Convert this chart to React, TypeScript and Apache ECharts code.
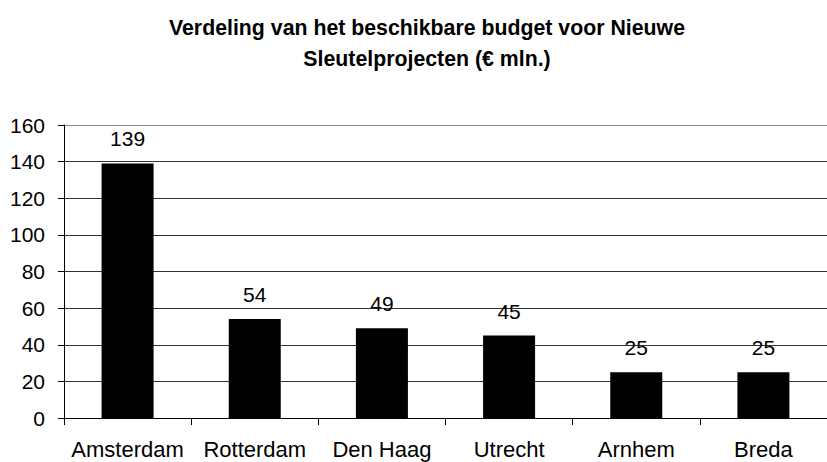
import React, { useEffect, useRef } from "react";
import * as echarts from "echarts";

const categories = ["Amsterdam", "Rotterdam", "Den Haag", "Utrecht", "Arnhem", "Breda"];
const budget = [139, 54, 49, 45, 25, 25];
const titleText = "Verdeling van het beschikbare budget voor Nieuwe\nSleutelprojecten (€ mln.)";
const yMin = 0;
const yMax = 160;
const yInterval = 20;

const FONT = "'Liberation Sans', Arial, sans-serif";

export default function App() {
  const ref = useRef<HTMLDivElement>(null);
  useEffect(() => {
    document.body.style.margin = "0";
    if (!ref.current) return;
    const chart = echarts.init(ref.current, null, { renderer: "svg" });
    chart.setOption({
      animation: false,
      backgroundColor: "#ffffff",
      title: {
        text: titleText,
        left: 422,
        top: 7,
        textAlign: "center",
        textStyle: {
          fontFamily: FONT,
          fontSize: 21.3,
          fontWeight: "bold",
          color: "#000",
          lineHeight: 31,
        },
      },
      grid: { left: 64, top: 125, bottom: 44, width: 776, containLabel: false },
      xAxis: {
        type: "category",
        data: categories,
        axisLine: { show: true, lineStyle: { color: "#000", width: 1 } },
        axisTick: { show: true, length: 7, alignWithLabel: false, lineStyle: { color: "#000" } },
        axisLabel: {
          fontFamily: FONT,
          fontSize: 22,
          color: "#000",
          margin: 20,
          interval: 0,
        },
        splitLine: { show: false },
      },
      yAxis: {
        type: "value",
        min: yMin,
        max: yMax,
        interval: yInterval,
        axisLine: { show: true, lineStyle: { color: "#000", width: 1 } },
        axisTick: { show: true, length: 6, inside: false, lineStyle: { color: "#000" } },
        axisLabel: {
          fontFamily: FONT,
          fontSize: 21,
          color: "#000",
          margin: 19,
        },
        splitLine: {
          show: true,
          lineStyle: {
            color: ["#000", "#333", "#333", "#333", "#333", "#333", "#333", "#333", "#888"],
            width: 1,
          },
        },
      },
      series: [
        {
          type: "bar",
          data: budget,
          barWidth: 52,
          itemStyle: { color: "#000" },
          label: {
            show: true,
            position: "top",
            distance: 14,
            fontFamily: FONT,
            fontSize: 21,
            color: "#000",
          },
        },
      ],
    });
    return () => chart.dispose();
  }, []);
  return <div ref={ref} style={{ width: 827, height: 462 }} />;
}
